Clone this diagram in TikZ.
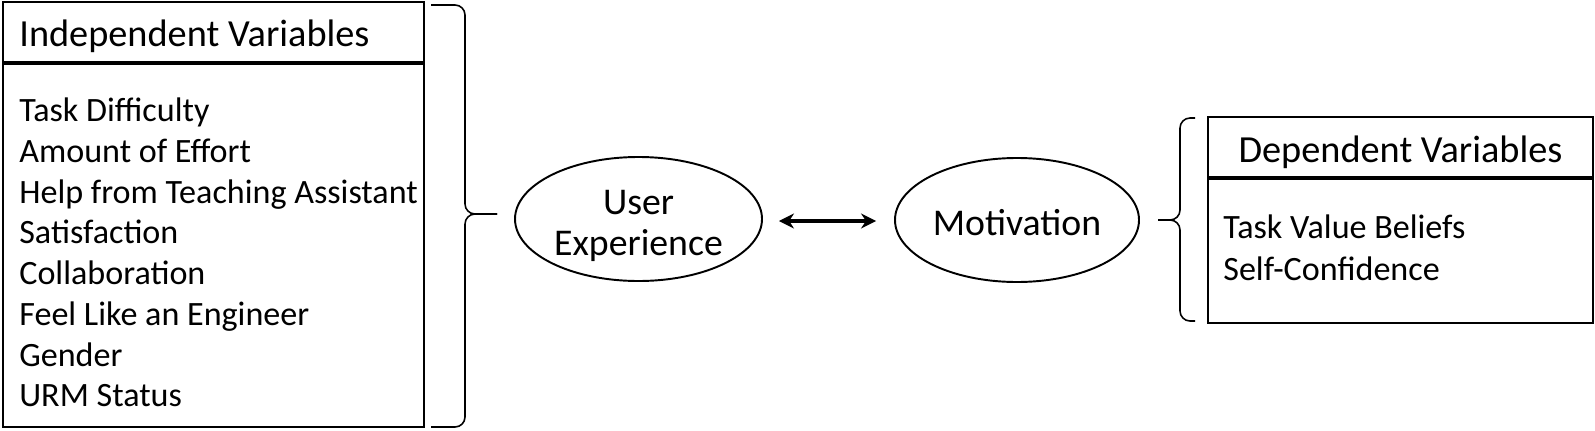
\documentclass[tikz,border=0pt]{standalone}
\usepackage{fontspec}
\setmainfont{Carlito}
\usepackage{tikz}
\usetikzlibrary{arrows.meta,positioning,shapes.geometric}

\begin{document}
\begin{tikzpicture}[
    box/.style={rectangle, draw, line width=1.1pt, inner sep=0pt},
    sepline/.style={line width=2pt},
    head/.style={font=\fontsize{21.8}{26}\selectfont, inner sep=0pt},
    item/.style={font=\fontsize{19.4}{23}\selectfont, inner sep=0pt, anchor=base west},
    oval/.style={ellipse, draw, line width=1.1pt, inner sep=0pt},
    ovaltext/.style={align=center, inner sep=0pt,
                     font=\fontsize{21.5}{23.8}\selectfont},
    brc/.style={line width=0.9pt, rounded corners=0.2cm},
    arr/.style={{Stealth[length=0.3cm,width=0.3cm]}-{Stealth[length=0.3cm,width=0.3cm]}, line width=1.8pt}
  ]
  \useasboundingbox (0,0) rectangle (31.9,-8.6);

  % Independent variables
  \node[box, minimum width=8.42cm, minimum height=8.5cm] (ivbox) at (4.27,-4.29) {};
  \draw[sepline] (0.06,-1.26) -- (8.48,-1.26);
  \node[head, anchor=west] (ivhead) at (0.38,-0.72) {Independent Variables};
  \foreach \txt [count=\i] in {Task Difficulty, Amount of Effort,
      Help from Teaching Assistant, Satisfaction, Collaboration,
      Feel Like an Engineer, Gender, URM Status}
    \node[item] (iv\i) at (0.38,{-2.43-0.815*(\i-1)}) {\txt};

  % Brace to the left oval
  \draw[brc] (8.62,-0.1) -- (9.30,-0.1) -- (9.30,-4.28) -- (9.94,-4.28);
  \draw[brc] (8.62,-8.54) -- (9.30,-8.54) -- (9.30,-4.28) -- (9.94,-4.28);

  % Ovals
  \node[oval, minimum width=4.94cm, minimum height=2.48cm] (ux) at (12.77,-4.38) {};
  \node[ovaltext] (uxtext) at (12.77,-4.52) {User\\Experience};
  \node[oval, minimum width=4.88cm, minimum height=2.48cm] (mot) at (20.34,-4.40) {};
  \node[ovaltext] (mottext) at (20.34,-4.46) {Motivation};
  \draw[arr, shorten <=0.32cm, shorten >=0.36cm] (ux.east |- 0,-4.42) -- (mot.west |- 0,-4.42);

  % Brace from the dependent box
  \draw[brc] (23.9,-2.36) -- (23.6,-2.36) -- (23.6,-4.4) -- (23.16,-4.4);
  \draw[brc] (23.9,-6.42) -- (23.6,-6.42) -- (23.6,-4.4) -- (23.16,-4.4);

  % Dependent variables
  \node[box, minimum width=7.7cm, minimum height=4.12cm] (dvbox) at (28.01,-4.4) {};
  \draw[sepline] (24.16,-3.56) -- (31.86,-3.56);
  \node[head] (dvhead) at (28.01,-3.05) {Dependent Variables};
  \node[item] (dv1) at (24.46,-4.77) {Task Value Beliefs};
  \node[item] (dv2) at (24.46,-5.61) {Self-Confidence};

\end{tikzpicture}
\end{document}
